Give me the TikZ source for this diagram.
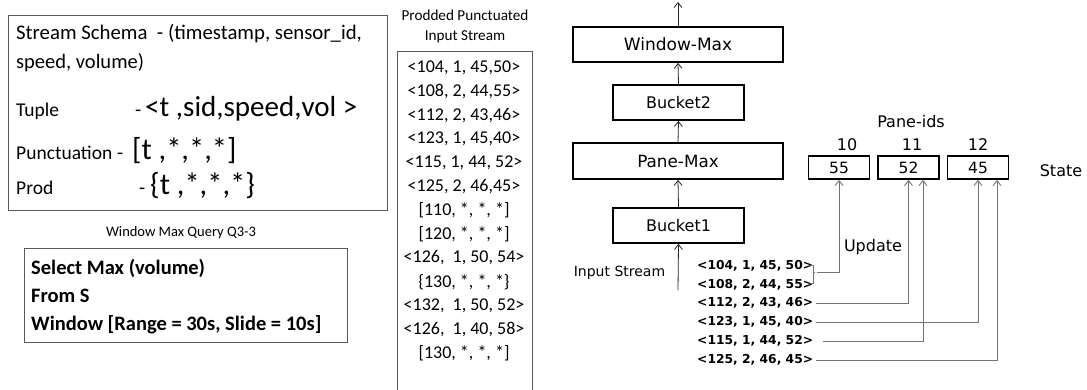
\documentclass[tikz,border=0pt]{standalone}
\usepackage{fontspec}
\setmainfont{Carlito}
\newfontfamily\vfont{DejaVu Sans}
\usetikzlibrary{arrows.meta}
\newcommand\fs[1]{\fontsize{#1}{#1}\selectfont}

\begin{document}
\begin{tikzpicture}[x=1pt,y=-1pt,
  frame/.style={draw=black!65, line width=0.9pt, inner sep=0pt},
  txt/.style={inner sep=0pt, anchor=base west},
  opbox/.style={draw, line width=1.8pt, minimum height=35pt, inner sep=0pt, font=\vfont\fs{16}},
  panebox/.style={draw, line width=1.8pt, minimum width=61pt, minimum height=23pt, inner sep=0pt, font=\vfont\fs{15.5}},
  vlabel/.style={inner sep=0pt, font=\vfont\fs{16}},
  tup/.style={inner sep=0pt, anchor=west, font=\vfont\bfseries\fs{12.3}},
  flow/.style={line width=0.8pt, black!85, -{Straight Barb[length=5pt,width=8pt]}},
  upd/.style={line width=0.9pt, draw=black!55, -{Straight Barb[length=5pt,width=8pt]}},
  bracket/.style={line width=0.9pt, draw=black!55}
]
\useasboundingbox (0,0) rectangle (1087,389);

% ---- stream schema definitions ----
\node[frame, anchor=north west, minimum width=379pt, minimum height=195pt] (schema) at (8,15) {};
\node[txt] (l1) at (16,39) {\fs{20.8}Stream Schema\ \ - (timestamp, sensor\_id,};
\node[txt] (l2) at (16,68) {\fs{20.5}speed, volume)};
\node[txt] (tuplbl) at (16,116) {\fs{19.5}Tuple};
\node[txt] (tupdash) at (135,116) {\fs{20}-};
\node[txt] (tupval) at (145,116) {\fs{29}<t ,sid,speed,vol >};
\node[txt] (punlbl) at (16,159) {\fs{19.5}Punctuation};
\node[txt] (pundash) at (117,159) {\fs{20}-};
\node[txt] (punval) at (132,159) {\fs{30.5}[t ,*,*,*]};
\node[txt] (prodlbl) at (16,194) {\fs{19.5}Prod};
\node[txt] (proddash) at (139,194) {\fs{20}-};
\node[txt] (prodval) at (150,194) {\fs{30.5}\{t ,*,*,*\}};

% ---- query ----
\node[inner sep=0pt] (qcap) at (181,233) {\fs{14.5}Window Max Query Q3-3};
\node[frame, anchor=north west, minimum width=323pt, minimum height=94pt] (query) at (24,248) {};
\node[txt] (q1) at (31,274) {\fs{20.5}\bfseries Select Max (volume)};
\node[txt] (q2) at (31,302) {\fs{20.5}\bfseries From S};
\node[txt] (q3) at (31,330) {\fs{20.5}\bfseries Window [Range = 30s, Slide = 10s]};

% ---- prodded punctuated input stream ----
\node[inner sep=0pt] (ph1) at (465,15) {\fs{15.2}Prodded Punctuated};
\node[inner sep=0pt] (ph2) at (465,37) {\fs{15.2}Input Stream};
\node[frame, anchor=north west, minimum width=135pt, minimum height=350pt] (pstream) at (397,51) {};
\foreach \s [count=\i from 0] in {%
  {<104, 1, 45,50>},{<108, 2, 44,55>},{<112, 2, 43,46>},{<123, 1, 45,40>},
  {<115, 1, 44, 52>},{<125, 2, 46,45>},{[110, *, *, *]},{[120, *, *, *]},
  {<126,\ \ 1, 50, 54>},{\{130, *, *, *\}},{<132,\ \ 1, 50, 52>},{<126,\ \ 1, 40, 58>},
  {[130, *, *, *]}}
  \node[inner sep=0pt] (ps\i) at (464,68+23.75*\i) {\fs{18}\s};

% ---- operator plan ----
\node[opbox, minimum width=210pt, font=\vfont\fs{17}] (wmax) at (678,44.5) {Window-Max};
\node[opbox, minimum width=131pt] (bucket2) at (678.5,102.5) {Bucket2};
\node[opbox, minimum width=210pt, minimum height=36pt, font=\vfont\fs{16.8}] (pmax) at (678,161) {Pane-Max};
\node[opbox, minimum width=131pt] (bucket1) at (678.5,225.5) {Bucket1};
\node[inner sep=0pt, font=\vfont\fs{14}] (inlbl) at (619.5,273) {Input Stream};
\coordinate (instart) at (678,290);
\coordinate (outend) at (678,2);
\draw[flow] (instart) -- (bucket1.south);
\draw[flow] (bucket1.north) -- (pmax.south);
\draw[flow] (pmax.north) -- (bucket2.south);
\draw[flow] (bucket2.north) -- (wmax.south);
\draw[flow] (wmax.north) -- (outend);

% ---- pane state ----
\node[vlabel] (paneids) at (911,122) {Pane-ids};
\node[vlabel] (id10) at (847,145) {10};
\node[vlabel] (id11) at (912,145) {11};
\node[vlabel] (id12) at (978,145) {12};
\node[panebox] (s10) at (839,167.5) {55};
\node[panebox] (s11) at (908.5,167.5) {52};
\node[panebox] (s12) at (978,167.5) {45};
\node[vlabel] (statelbl) at (1061,171) {State};
\node[vlabel] (updlbl) at (873,247) {Update};

% ---- incoming tuples ----
\node[tup] (t1) at (697,266) {<104, 1, 45, 50>};
\node[tup] (t2) at (697,285) {<108, 2, 44, 55>};
\node[tup] (t3) at (697,303) {<112, 2, 43, 46>};
\node[tup] (t4) at (697,322) {<123, 1, 45, 40>};
\node[tup] (t5) at (697,341) {<115, 1, 44, 52>};
\node[tup] (t6) at (697,360) {<125, 2, 46, 45>};

% the first two tuples update pane 10 together
\coordinate (brtop) at (813,265);
\coordinate (brbot) at (813,283);
\coordinate (brtip) at (817,272);
\draw[bracket] ([xshift=-3pt]brtop) -- (brtop) -- (brbot) -- ([xshift=-3pt]brbot);
\draw[bracket] (813,272) -- (815,272);
\draw[upd] (brtip) -| (s10.south);
\draw[upd] ([xshift=3pt]t3.east) -| (s11.south);
\draw[upd] ([xshift=3pt]t4.east) -| (s12.south);
\draw[upd] ([xshift=10pt]t5.east) -| ([xshift=14.5pt]s11.south);
\draw[upd] ([xshift=3pt]t6.east) -| ([xshift=19pt]s12.south);
\end{tikzpicture}
\end{document}
